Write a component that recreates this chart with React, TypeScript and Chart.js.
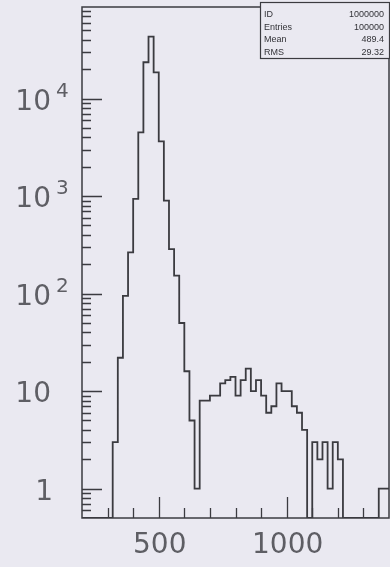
import React, { useEffect, useRef } from "react";
import { Chart, registerables } from "chart.js";

Chart.register(...registerables);

// Histogram binning (20-unit bins from 200 to 1400)
const xLow = 200;
const xHigh = 1400;
const binWidth = 20;

// Bin contents, one per bin starting at 200
const counts = [
  0, 0, 0, 0, 0, 0, 0,
  3, 22, 95, 265, 935, 4500, 23600, 43200, 18600, 3640, 900, 286, 153, 50, 16, 5, 1,
  8, 8, 9, 9, 12, 13, 14, 9, 13, 17, 10, 13, 9, 6, 7, 12, 10, 10, 7, 6, 4,
  0, 3, 2, 3, 1, 3, 2,
  0, 0, 0, 0, 0, 0, 0, 1,
];

// Axis ranges
const yMin = 0.5;
const yMax = 87000;

// Tick marks and labels
const xMinorTicks = [300, 400, 600, 700, 800, 900, 1100, 1200, 1300];
const xMajorTicks = [500, 1000];
const xTickLabels = ["500", "1000"];
const yMajorTicks = [1, 10, 100, 1000, 10000];
const yTickMantissa = ["1", "10", "10", "10", "10"];
const yTickExponent = ["", "", "2", "3", "4"];

// Statistics box
const statNames = ["ID", "Entries", "Mean", "RMS"];
const statValues = ["1000000", "100000", "489.4", "29.32"];

const PAGE_BG = "#eae9f1";
const INK = "#3b3b40";
const LABEL_INK = "#5e5e64";

const binEdges = counts.map((_, i) => xLow + i * binWidth);

function yMinorTicks(): number[] {
  const out: number[] = [];
  for (let e = -1; e <= 4; e++) {
    for (let k = 2; k <= 9; k++) {
      const v = k * Math.pow(10, e);
      if (v > yMin && v < yMax) out.push(v);
    }
  }
  return out;
}

const framePlugin = {
  id: "hbookFrame",
  beforeDraw(chart: any) {
    const { ctx, width, height } = chart;
    ctx.save();
    ctx.fillStyle = PAGE_BG;
    ctx.fillRect(0, 0, width, height);
    ctx.restore();
  },
  afterDraw(chart: any) {
    const { ctx, chartArea } = chart;
    const { left, right, top, bottom } = chartArea;
    const xs = chart.scales.x;
    const ys = chart.scales.y;
    ctx.save();
    ctx.strokeStyle = INK;
    ctx.lineWidth = 1.5;
    ctx.strokeRect(left, top, right - left, bottom - top);

    ctx.lineWidth = 1.3;
    ctx.beginPath();
    // y axis ticks, pointing into the frame
    yMajorTicks.forEach((v) => {
      const p = Math.round(ys.getPixelForValue(v)) + 0.5;
      ctx.moveTo(left, p);
      ctx.lineTo(left + 20, p);
    });
    yMinorTicks().forEach((v) => {
      const p = Math.round(ys.getPixelForValue(v)) + 0.5;
      ctx.moveTo(left, p);
      ctx.lineTo(left + 9, p);
    });
    // x axis ticks, pointing up from the bottom
    xMajorTicks.forEach((v) => {
      const p = Math.round(xs.getPixelForValue(v)) + 0.5;
      ctx.moveTo(p, bottom);
      ctx.lineTo(p, bottom - 21);
    });
    xMinorTicks.forEach((v) => {
      const p = Math.round(xs.getPixelForValue(v)) + 0.5;
      ctx.moveTo(p, bottom);
      ctx.lineTo(p, bottom - 10);
    });
    ctx.stroke();

    // y tick labels: mantissa with superscript exponent
    ctx.fillStyle = LABEL_INK;
    ctx.textBaseline = "alphabetic";
    yMajorTicks.forEach((v, i) => {
      const p = ys.getPixelForValue(v);
      ctx.font = "28px 'DejaVu Sans'";
      ctx.textAlign = "right";
      const m = yTickMantissa[i];
      ctx.fillText(m, m === "1" ? 53 : 51, p + 11);
      if (yTickExponent[i]) {
        ctx.font = "20px 'DejaVu Sans'";
        ctx.textAlign = "left";
        ctx.fillText(yTickExponent[i], 56, p - 2);
      }
    });

    // x tick labels
    ctx.font = "28px 'DejaVu Sans'";
    ctx.textAlign = "center";
    xMajorTicks.forEach((v, i) => {
      const p = xs.getPixelForValue(v);
      ctx.fillText(xTickLabels[i], p + 1, bottom + 35);
    });

    // statistics box
    const bx = 260;
    const by = 2;
    const bw = right - bx;
    const bh = 56;
    ctx.fillStyle = PAGE_BG;
    ctx.fillRect(bx, by, bw, bh);
    ctx.strokeStyle = INK;
    ctx.lineWidth = 1.2;
    ctx.strokeRect(bx + 0.5, by + 0.5, bw, bh);
    ctx.fillStyle = "#333338";
    ctx.font = "9px 'Liberation Sans'";
    statNames.forEach((name, i) => {
      const ty = by + 15 + i * 12.5;
      ctx.textAlign = "left";
      ctx.fillText(name, bx + 4, ty);
      ctx.textAlign = "right";
      ctx.fillText(statValues[i], right - 5, ty);
    });
    ctx.restore();
  },
};

export default function App() {
  const ref = useRef<HTMLCanvasElement>(null);

  useEffect(() => {
    document.body.style.margin = "0";
    document.body.style.background = PAGE_BG;
    const canvas = ref.current;
    if (!canvas) return;

    // step outline through bin low edges, closed at the upper range edge;
    // empty bins sit on the bottom of the axis
    const points = binEdges.map((x, i) => ({ x, y: Math.max(counts[i], yMin) }));
    points.push({ x: xHigh, y: Math.max(counts[counts.length - 1], yMin) });

    const chart = new Chart(canvas, {
      type: "line",
      data: {
        datasets: [
          {
            data: points,
            stepped: "after",
            borderColor: INK,
            borderWidth: 1.8,
            pointRadius: 0,
            fill: false,
          },
        ],
      },
      options: {
        animation: false,
        responsive: false,
        devicePixelRatio: 1,
        layout: { padding: { left: 82, right: 1, top: 7, bottom: 49 } },
        plugins: {
          legend: { display: false },
          tooltip: { enabled: false },
        },
        scales: {
          x: { type: "linear", min: xLow, max: xHigh, display: false },
          y: { type: "logarithmic", min: yMin, max: yMax, display: false },
        },
      },
      plugins: [framePlugin],
    });
    return () => chart.destroy();
  }, []);

  return (
    <div style={{ width: 390, height: 567 }}>
      <canvas ref={ref} width={390} height={567} style={{ display: "block", width: 390, height: 567 }} />
    </div>
  );
}
